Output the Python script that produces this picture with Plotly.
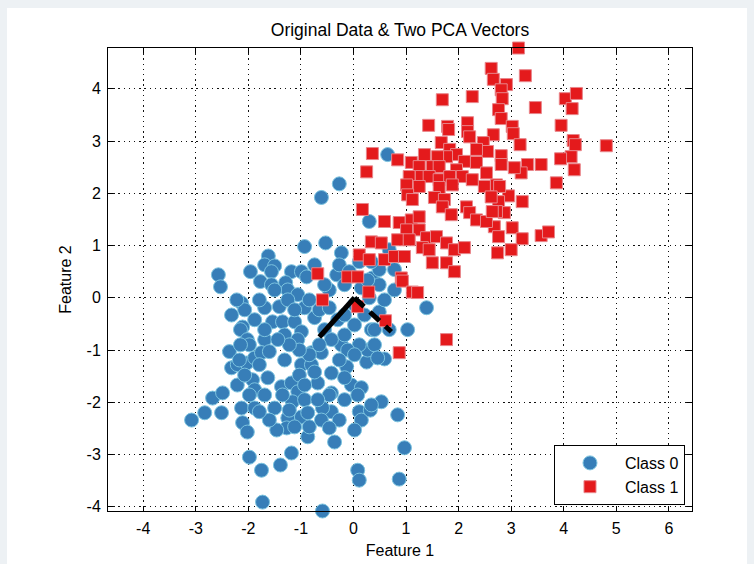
import plotly.graph_objects as go

# ---- data ----
class0_x = [-0.93, -1.62, -1.69, -1.50, -1.56, -1.96, -2.57, -2.53, -1.77, -1.56, -1.18, -0.99, -1.29, -1.25,
            -1.06, -0.89, -2.13, -2.07, -1.69, -1.41, -1.25, -0.93, -1.54, -1.35, -2.11, -2.15, -1.69, -2.02,
            -1.12, -0.99, -1.31, -1.06, -0.61, -0.27, 0.65, 0.30, -0.53, -0.23, 0.68, 0.78, -0.32, 0.36, 0.49,
            1.39, 1.03,
            -2.36, -2.32, -2.21, -2.03, -1.88, -1.75, -1.63, -1.92, -2.21, -1.88, -1.69, -1.50, -1.37, -1.18,
            -1.06, -1.16, -0.93, -0.99, -0.80, -0.80, -0.61, -0.42, -0.68, -0.42, -0.42, -0.59, -0.13, -0.04,
            0.15, 0.25, 0.59, 0.27, 0.40, -0.23, -2.68, -2.49, -2.83, -2.51, -3.08, -2.13, -1.88, -2.11, -2.02,
            -1.25, -1.27, -1.46, -0.99, -0.87, -0.87, -0.36, 0.11, 0.15, 0.32, 0.53, 0.84, 0.97, 0.87, 0.08,
            0.11, -1.18, -1.39, -1.75, -1.98, -1.73, -0.59,
            -0.74, -0.55, -0.30, -0.17, 0.02, 0.21, 0.34, 0.11, -0.11, -0.42, -0.65, -0.84, -1.03, -1.22,
            -1.44, -1.60, -1.31, -1.03, -0.74, -0.27, 0.02, 0.40, 0.49, 0.59, 0.30, 0.15, 0.49, 0.78, 0.68,
            0.46, -1.35, -1.22, -1.60, -1.79, -1.98, -2.07, -1.79, -1.50, -1.79, -1.88, -1.98, -2.17, -1.69,
            -0.46, -0.17, 0.02, -0.55, -0.74, -0.27, -0.08, 0.11, 0.34, 0.27, -0.46, -0.17, -0.68, -0.27,
            0.02, 0.34, 0.08, -0.61, -0.46, -0.84, -1.12, -2.22, -2.32, -2.15, -0.65, -0.46, -0.17, -1.12,
            -0.84, -0.93, -0.17]
class0_y = [0.98, 0.80, 0.63, 0.61, 0.50, 0.50, 0.44, 0.21, 0.31, 0.25, 0.50, 0.50, 0.29, 0.15,
            0.06, 0.40, -0.10, -0.23, -0.19, -0.17, -0.04, -0.19, -0.46, -0.46, -0.56, -0.61, -0.80, -0.80,
            -0.46, -0.65, -0.71, -0.80, 1.92, 2.18, 2.74, 1.46, 1.05, 0.86, 0.92, 0.54, 0.44, 0.38, 0.25,
            -0.19, -0.61,
            -1.03, -1.34, -1.28, -1.25, -1.15, -1.05, -1.53, -1.57, -1.67, -1.76, -1.86, -2.11, -1.70, -1.63,
            -1.80, -1.99, -1.95, -1.28, -1.28, -1.05, -1.05, -1.44, -1.63, -1.82, -2.18, -2.11, -1.32, -1.67,
            -1.72, -1.23, -1.17, -1.00, -0.90, -0.90, -1.92, -1.82, -2.20, -2.20, -2.34, -2.11, -2.11, -2.39,
            -2.57, -2.30, -2.49, -2.53, -2.28, -2.20, -2.66, -2.76, -2.18, -2.34, -2.15, -1.99, -2.24, -2.87,
            -3.47, -3.30, -3.49, -2.97, -3.20, -3.30, -3.05, -3.91, -4.08,
            -0.38, -0.61, -0.42, -0.71, -0.52, -0.33, -0.61, -0.90, -1.00, -0.80, -0.90, -1.09, -1.00, -0.90,
            -0.80, -1.03, -1.19, -1.48, -1.42, -1.19, -1.09, -0.61, -0.27, -0.04, 0.00, 0.19, 0.54, 0.15, -0.61,
            -1.15, -1.86, -2.15, -2.34, -2.18, -1.86, -1.48, -1.28, 0.15, -0.04, -0.42, -0.90, -1.19, -0.61,
            0.15, 0.25, -0.13, 0.25, 0.63, 0.63, 0.50, 0.69, 0.69, 0.34, -1.86, -1.95, -1.95, -2.34,
            -2.53, -2.05, -1.86, -2.34, -2.49, -2.47, -2.47, -0.04, -0.33, -0.90, -0.23, -0.19, -0.33, -0.23,
            -0.04, -1.67, -1.53]

class1_x = [3.14, 2.62, 3.27, 2.66, 2.91, 2.81, 2.83, 2.26, 1.69, 2.76, 2.81, 3.46, 4.03, 4.24, 4.16, 3.95,
            3.02, 3.04, 3.17, 4.18, 4.22, 4.81, 4.14, 3.94, 4.20, 3.86, 3.57, 3.31, 3.19, 3.06, 2.81, 2.81,
            2.72, 2.95, 2.76, 3.21, 2.87, 2.72, 2.68, 2.76, 3.02, 3.21, 3.57, 3.71, 3.00, 2.74, 1.43, 1.79,
            1.81, 2.17, 2.17, 2.21, 2.66, 2.47, 2.55, 2.34, 2.34, 2.53, 2.49, 2.78, 2.62, 1.67, 1.83, 1.96,
            2.11, 1.96, 1.77, 1.60, 1.35, 1.10, 1.25, 1.50, 1.63, 1.06, 1.29, 1.44, 1.63, 1.83, 2.07, 2.26,
            1.88, 1.01, 1.25, 1.63, 1.03, 1.12, 1.54, 1.73, 1.69, 1.86, 2.15, 2.21, 2.34, 2.53, 2.64, 0.36,
            0.25, 0.84, 0.17, 0.59, 0.87, 1.10, 1.25, 1.25, 1.01, 0.84, 1.06, 1.39, 1.58, 1.31, 1.44, 1.77,
            1.92, 2.11, 0.34, 0.53, 0.11, 0.30, 0.59, 0.78, 0.97, 1.50, 1.77, 1.92, 0.91, 0.93, -0.68, -0.11,
            0.08, 0.29, -0.59, 0.08, 0.61, 1.12, 1.22, 1.77, 0.87]
class1_y = [4.78, 4.39, 4.25, 4.18, 4.08, 3.98, 3.81, 3.85, 3.79, 3.60, 3.43, 3.64, 3.81, 3.91, 3.62, 3.30,
            3.28, 3.14, 2.93, 3.01, 2.93, 2.91, 2.70, 2.66, 2.45, 2.20, 2.55, 2.55, 2.39, 2.49, 2.72, 2.55,
            2.16, 1.95, 1.84, 1.84, 1.63, 1.65, 1.36, 1.17, 1.34, 1.13, 1.19, 1.26, 0.92, 0.86, 3.30, 3.28,
            3.22, 3.35, 3.18, 3.08, 3.12, 2.97, 2.80, 2.84, 2.59, 2.39, 2.13, 2.13, 1.93, 2.97, 2.84, 2.74,
            2.61, 2.45, 2.70, 2.70, 2.74, 2.59, 2.51, 2.51, 2.51, 2.32, 2.32, 2.32, 2.26, 2.32, 2.32, 2.26,
            2.16, 2.16, 2.13, 2.11, 1.97, 1.88, 1.92, 1.88, 1.74, 1.59, 1.74, 1.63, 1.49, 1.46, 1.65, 2.76,
            2.41, 2.64, 1.69, 1.46, 1.44, 1.49, 1.55, 1.30, 1.30, 1.11, 1.11, 1.15, 1.17, 0.96, 0.92, 1.05,
            0.92, 0.96, 1.07, 1.05, 0.82, 0.73, 0.73, 0.79, 0.79, 0.67, 0.67, 0.50, 0.38, 0.32, 0.46, 0.40,
            0.40, 0.11, -0.04, -0.17, -0.44, 0.11, 0.10, -0.80, -1.05]

pc1_x = [0.02, -0.65]
pc1_y = [0.00, -0.75]
pc2_x = [0.02, 0.72]
pc2_y = [0.00, -0.65]

x_ticks = [-4, -3, -2, -1, 0, 1, 2, 3, 4, 5, 6]
x_tick_labels = ["-4", "-3", "-2", "-1", "0", "1", "2", "3", "4", "5", "6"]
y_ticks = [-4, -3, -2, -1, 0, 1, 2, 3, 4]
y_tick_labels = ["-4", "-3", "-2", "-1", "0", "1", "2", "3", "4"]

FONT = "Liberation Sans, Arial, Helvetica, sans-serif"

fig = go.Figure()
fig.add_trace(go.Scatter(
    x=class0_x, y=class0_y, mode="markers", name="Class 0", cliponaxis=False,
    marker=dict(symbol="circle", size=14, color="#377eb8",
                line=dict(color="#7cc3df", width=1))))
fig.add_trace(go.Scatter(
    x=class1_x, y=class1_y, mode="markers", name="Class 1", cliponaxis=False,
    marker=dict(symbol="square", size=12, color="#e41a1c",
                line=dict(color="#e8858a", width=1))))
fig.add_trace(go.Scatter(
    x=pc1_x, y=pc1_y, mode="lines", showlegend=False,
    line=dict(color="black", width=5)))
fig.add_trace(go.Scatter(
    x=pc2_x, y=pc2_y, mode="lines", showlegend=False,
    line=dict(color="black", width=5, dash="13px,8px")))

axis_common = dict(
    ticks="inside", ticklen=5, tickcolor="black", tickwidth=1,
    showline=True, linecolor="black", linewidth=1, mirror="ticks",
    showgrid=True, gridcolor="#111111", gridwidth=1, griddash="1.3px,3.9px",
    zeroline=False, tickfont=dict(family=FONT, size=16, color="black"),
    ticklabelstandoff=3, fixedrange=True, automargin=False,
)

fig.update_layout(
    width=754, height=564,
    margin=dict(l=108, r=62, t=48, b=53),
    paper_bgcolor="#edf1f4", plot_bgcolor="white",
    font=dict(family=FONT, color="black"),
    title=dict(text="Original Data & Two PCA Vectors", x=0.5, xref="paper",
               y=1 - 30 / 564, yanchor="middle",
               font=dict(family=FONT, size=17.5, color="black")),
    xaxis=dict(range=[-4.67, 6.44], tickvals=x_ticks, ticktext=x_tick_labels, **axis_common,
               title=dict(text="Feature 1", standoff=8,
                          font=dict(family=FONT, size=16, color="black"))),
    yaxis=dict(range=[-4.08, 4.78], tickvals=y_ticks, ticktext=y_tick_labels, **axis_common,
               title=dict(text="Feature 2", standoff=10,
                          font=dict(family=FONT, size=16, color="black"))),
    legend=dict(x=0.988, y=0.013, xanchor="right", yanchor="bottom",
                bgcolor="white", bordercolor="black", borderwidth=1,
                itemwidth=60, font=dict(family=FONT, size=16, color="black"),
                tracegroupgap=0),
    showlegend=True,
    shapes=[dict(type="rect", xref="paper", yref="paper",
                 x0=-0.1729, x1=1.0942, y0=-0.1145, y1=1.0864,
                 fillcolor="white", line=dict(width=0), layer="below")],
)

fig.write_html("out.html")
